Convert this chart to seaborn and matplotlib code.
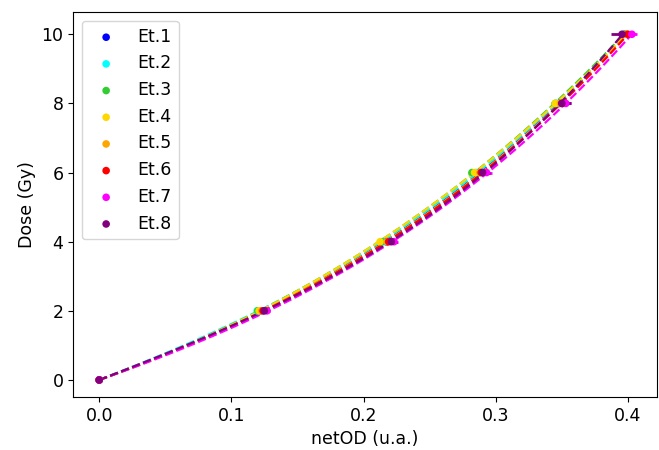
import numpy as np
import pandas as pd
import matplotlib
matplotlib.use("Agg")
import matplotlib.pyplot as plt
import seaborn as sns

doses = [0, 2, 4, 6, 8, 10]
labels = ["Et.1", "Et.2", "Et.3", "Et.4", "Et.5", "Et.6", "Et.7", "Et.8"]
colors = ["blue", "cyan", "limegreen", "gold", "orange", "red", "magenta", "purple"]

netod_et1 = [0.0, 0.122, 0.217, 0.287, 0.348, 0.398]
netod_et2 = [0.0, 0.1195, 0.215, 0.285, 0.346, 0.397]
netod_et3 = [0.0, 0.120, 0.214, 0.282, 0.345, 0.397]
netod_et4 = [0.0, 0.121, 0.2125, 0.284, 0.345, 0.399]
netod_et5 = [0.0, 0.123, 0.218, 0.288, 0.349, 0.399]
netod_et6 = [0.0, 0.124, 0.219, 0.289, 0.350, 0.400]
netod_et7 = [0.0, 0.127, 0.223, 0.293, 0.353, 0.403]
netod_et8 = [0.0, 0.125, 0.221, 0.290, 0.350, 0.3955]

err_et1 = [0.0, 0.002, 0.002, 0.003, 0.003, 0.003]
err_et2 = [0.0, 0.002, 0.002, 0.003, 0.003, 0.003]
err_et3 = [0.0, 0.002, 0.002, 0.003, 0.003, 0.003]
err_et4 = [0.0, 0.002, 0.002, 0.003, 0.003, 0.003]
err_et5 = [0.0, 0.002, 0.002, 0.003, 0.003, 0.003]
err_et6 = [0.0, 0.002, 0.002, 0.003, 0.003, 0.003]
err_et7 = [0.0, 0.002, 0.003, 0.004, 0.004, 0.004]
err_et8 = [0.0, 0.003, 0.004, 0.006, 0.007, 0.008]

netods = [netod_et1, netod_et2, netod_et3, netod_et4, netod_et5, netod_et6, netod_et7, netod_et8]
errs = [err_et1, err_et2, err_et3, err_et4, err_et5, err_et6, err_et7, err_et8]

fig = plt.figure(figsize=(6.59, 4.5), dpi=100)
ax = fig.add_axes([0.111, 0.118, 0.886, 0.855])

for lab, col, x, e in zip(labels, colors, netods, errs):
    df = pd.DataFrame({"netOD": x, "Dose": doses})
    ax.errorbar(x, doses, xerr=e, fmt="none", ecolor=col, elinewidth=2)
    sns.scatterplot(data=df, x="netOD", y="Dose", color=col, s=30,
                    edgecolor="none", label=lab, ax=ax, zorder=3)
    sns.regplot(data=df, x="netOD", y="Dose", order=3, ci=None, scatter=False,
                color=col, line_kws=dict(ls="--", lw=1.6), ax=ax)

fs = 12.5
ax.set_xlabel("netOD (u.a.)", fontsize=fs)
ax.set_ylabel("Dose (Gy)", fontsize=fs)
ax.tick_params(labelsize=fs)
ax.set_xticks([0.0, 0.1, 0.2, 0.3, 0.4])
ax.set_yticks([0, 2, 4, 6, 8, 10])
ax.set_xlim(-0.0197, 0.422)
ax.set_ylim(-0.49, 10.64)
ax.legend(loc="upper left", fontsize=fs, markerscale=1.0)
fig.savefig("out.png", dpi=100)
